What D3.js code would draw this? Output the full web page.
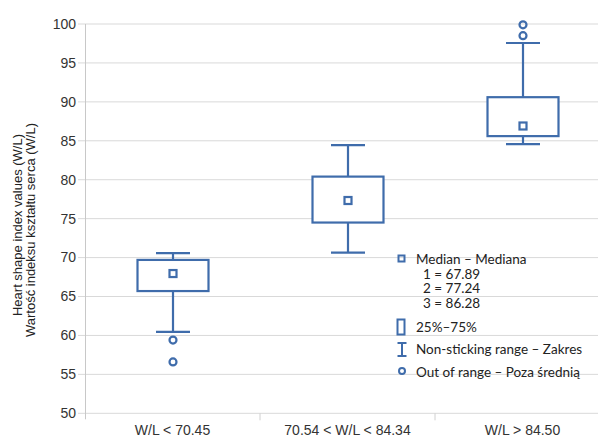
<!DOCTYPE html>
<html lang="pl">
<head>
    <meta charset="UTF-8">
    <title>Heart shape index box plot</title>
    <style>
        body { margin: 0; background: #fff; }
        .grid line { stroke: #d9d9d9; stroke-width: 1px; }
        .tick-label { font-family: "Liberation Sans", Arial, sans-serif; font-size: 14px; fill: #333; }
        .axis-title { font-family: "Liberation Sans", Arial, sans-serif; font-size: 13px; fill: #222; }
        .legend text { font-family: Lato, "Open Sans", sans-serif; font-size: 13.5px; fill: #222; }
    </style>
    <script src="https://d3js.org/d3.v7.min.js"></script>
</head>
<body>
<svg></svg>
<script>
    // data
    const categories = ["W/L < 70.45", "70.54 < W/L < 84.34", "W/L > 84.50"];
    const whiskerLow = [60.45, 70.64, 84.57];
    const q1 = [65.7, 74.5, 85.6];
    const q3 = [69.7, 80.4, 90.6];
    const whiskerHigh = [70.57, 84.45, 97.56];
    const medians = [67.95, 77.33, 86.9];
    const outliers = [[59.4, 56.6], [], [99.9, 98.5]];
    const yTicks = [50, 55, 60, 65, 70, 75, 80, 85, 90, 95, 100];
    const legendMedianLines = ["1 = 67.89", "2 = 77.24", "3 = 86.28"];

    const width = 598, height = 438;
    const blue = "#3f6cab";
    const svg = d3.select("svg").attr("width", width).attr("height", height);

    const x = d3.scaleBand().domain(categories).range([85, 610]);
    const y = d3.scaleLinear().domain([50, 100]).range([413.3, 24]);

    // gridlines
    svg.append("g").attr("class", "grid")
        .selectAll("line").data(yTicks).enter().append("line")
        .attr("x1", 78).attr("x2", width)
        .attr("y1", d => y(d)).attr("y2", d => y(d));

    // y axis line
    svg.append("line").attr("x1", 85.5).attr("x2", 85.5)
        .attr("y1", y(100)).attr("y2", y(50) + 6)
        .attr("stroke", "#c8c8c8");

    // x category ticks
    svg.append("g").selectAll("line").data(categories.slice(1)).enter().append("line")
        .attr("x1", d => x(d)).attr("x2", d => x(d))
        .attr("y1", y(50)).attr("y2", y(50) + 7)
        .attr("stroke", "#d0d0d0");

    // y tick labels
    svg.append("g").selectAll("text").data(yTicks).enter().append("text")
        .attr("class", "tick-label")
        .attr("x", 76).attr("y", d => y(d))
        .attr("dy", "0.35em")
        .attr("text-anchor", "end")
        .text(d => d);

    // x labels
    svg.append("g").selectAll("text").data(categories).enter().append("text")
        .attr("class", "tick-label")
        .attr("x", d => x(d) + x.bandwidth() / 2)
        .attr("y", 435)
        .attr("text-anchor", "middle")
        .text(d => d);

    // y title
    const titles = ["Heart shape index values (W/L)", "Wartość indeksu kształtu serca (W/L)"];
    svg.append("g").selectAll("text").data(titles).enter().append("text")
        .attr("class", "axis-title")
        .attr("transform", (d, i) => `translate(${22 + i * 13}, ${225 + i * 5}) rotate(-90)`)
        .attr("text-anchor", "middle")
        .text(d => d);

    // boxes
    const boxW = 71, capW = 34, mark = 7;
    const box = svg.append("g").selectAll("g").data(categories).enter().append("g")
        .attr("transform", d => `translate(${Math.round(x(d) + x.bandwidth() / 2)}, 0)`)
        .attr("stroke", blue).attr("stroke-width", 2.2).attr("fill", "none");

    box.append("line").attr("x1", 0).attr("x2", 0)
        .attr("y1", (d, i) => y(q3[i])).attr("y2", (d, i) => y(whiskerHigh[i]));
    box.append("line").attr("x1", 0).attr("x2", 0)
        .attr("y1", (d, i) => y(q1[i])).attr("y2", (d, i) => y(whiskerLow[i]));
    box.append("line").attr("x1", -capW / 2).attr("x2", capW / 2)
        .attr("y1", (d, i) => y(whiskerHigh[i])).attr("y2", (d, i) => y(whiskerHigh[i]));
    box.append("line").attr("x1", -capW / 2).attr("x2", capW / 2)
        .attr("y1", (d, i) => y(whiskerLow[i])).attr("y2", (d, i) => y(whiskerLow[i]));
    box.append("rect")
        .attr("x", -boxW / 2).attr("width", boxW)
        .attr("y", (d, i) => y(q3[i]))
        .attr("height", (d, i) => y(q1[i]) - y(q3[i]))
        .attr("fill", "#fff");
    box.append("rect")
        .attr("x", -mark / 2).attr("width", mark)
        .attr("y", (d, i) => y(medians[i]) - mark / 2).attr("height", mark);
    box.each(function (d, i) {
        d3.select(this).selectAll("circle").data(outliers[i]).enter().append("circle")
            .attr("cx", 0).attr("cy", v => y(v)).attr("r", 3.5);
    });

    // legend
    const lg = svg.append("g").attr("class", "legend");
    const sym = lg.append("g").attr("stroke", blue).attr("stroke-width", 2).attr("fill", "none");
    sym.append("rect").attr("x", 398.5).attr("y", 255.5).attr("width", 6).attr("height", 6);
    sym.append("rect").attr("x", 397.5).attr("y", 319.5).attr("width", 7).attr("height", 15);
    sym.append("line").attr("x1", 402).attr("x2", 402).attr("y1", 343).attr("y2", 356);
    sym.append("line").attr("x1", 397.5).attr("x2", 406.5).attr("y1", 343).attr("y2", 343);
    sym.append("line").attr("x1", 397.5).attr("x2", 406.5).attr("y1", 356).attr("y2", 356);
    sym.append("circle").attr("cx", 402).attr("cy", 371).attr("r", 3);

    lg.append("text").attr("x", 416).attr("y", 264).text("Median – Mediana");
    lg.selectAll("text.num").data(legendMedianLines).enter().append("text")
        .attr("class", "num")
        .attr("x", 423).attr("y", (d, i) => 278.5 + i * 14.5).text(d => d);
    lg.append("text").attr("x", 416).attr("y", 332).text("25%–75%");
    lg.append("text").attr("x", 416).attr("y", 354).text("Non-sticking range – Zakres");
    lg.append("text").attr("x", 416).attr("y", 377).text("Out of range – Poza średnią");
</script>
</body>
</html>
